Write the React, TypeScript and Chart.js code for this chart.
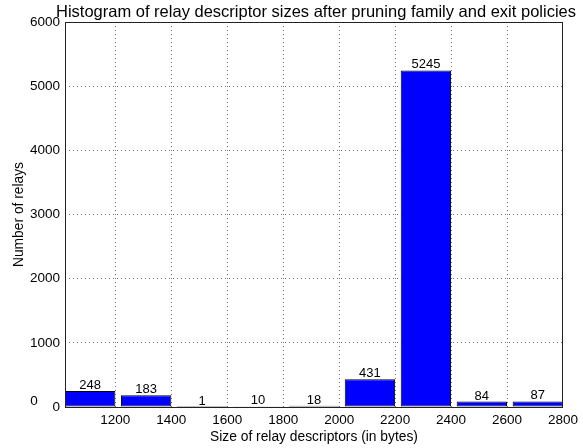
import React, { useEffect, useRef } from 'react';
import { Chart, registerables } from 'chart.js';

Chart.register(...registerables);

const binEdges = [1000, 1200, 1400, 1600, 1800, 2000, 2200, 2400, 2600, 2800];
const counts = [248, 183, 1, 10, 18, 431, 5245, 84, 87];
const xTicks = [1200, 1400, 1600, 1800, 2000, 2200, 2400, 2600, 2800];
const yTicks = [0, 1000, 2000, 3000, 4000, 5000, 6000];
const xRange = [1020, 2800];
const yRange = [0, 6000];
const strayLabel = '0';
const titleText = 'Histogram of relay descriptor sizes after pruning family and exit policies';
const xLabel = 'Size of relay descriptors (in bytes)';
const yLabel = 'Number of relays';

const FONT = '"Liberation Sans", Arial, sans-serif';

const textPlugin = {
  id: 'mplText',
  afterDraw(chart: any) {
    const ctx = chart.ctx;
    const a = chart.chartArea;
    ctx.save();
    // frame
    ctx.strokeStyle = '#222';
    ctx.lineWidth = 1;
    ctx.strokeRect(Math.round(a.left) + 0.5, Math.round(a.top) + 0.5, Math.round(a.right - a.left) - 1, Math.round(a.bottom - a.top));
    ctx.fillStyle = '#000';
    // value labels
    const meta = chart.getDatasetMeta(0);
    ctx.font = `13px ${FONT}`;
    ctx.textAlign = 'center';
    ctx.textBaseline = 'alphabetic';
    meta.data.forEach((el: any, i: number) => {
      ctx.fillText(String(counts[i]), el.x, el.y - 2);
    });
    // title
    const cx = (a.left + a.right) / 2;
    ctx.font = `16.5px ${FONT}`;
    ctx.textBaseline = 'middle';
    ctx.fillText(titleText, cx + 2, a.top - 10);
    // axis labels
    ctx.font = `13.8px ${FONT}`;
    ctx.fillText(xLabel, cx, a.bottom + 30);
    ctx.save();
    ctx.translate(a.left - 46, (a.top + a.bottom) / 2);
    ctx.rotate(-Math.PI / 2);
    ctx.fillText(yLabel, 0, 0);
    ctx.restore();
    // stray label
    ctx.font = `13.5px ${FONT}`;
    ctx.fillText(strayLabel, a.left - 31, a.bottom - 6);
    ctx.restore();
  },
};

export default function App() {
  const ref = useRef<HTMLCanvasElement>(null);
  useEffect(() => {
    document.body.style.margin = '0';
    const centers = counts.map((_, i) => binEdges[i] + (binEdges[i + 1] - binEdges[i]) * 0.55);
    const gridColor = 'rgba(0,0,0,0.55)';
    const chart = new Chart(ref.current!, {
      type: 'bar',
      data: {
        datasets: [
          {
            data: counts.map((c, i) => ({ x: centers[i], y: c })),
            backgroundColor: '#0000ff',
            borderColor: '#000000',
            borderWidth: 1,
            borderSkipped: false,
            categoryPercentage: 0.9,
            barPercentage: 1,
          } as any,
        ],
      },
      options: {
        animation: false,
        responsive: false,
        maintainAspectRatio: false,
        layout: { padding: { top: 22, right: 20, left: 0, bottom: 0 } },
        plugins: { legend: { display: false }, tooltip: { enabled: false }, title: { display: false } },
        scales: {
          x: {
            type: 'linear',
            min: xRange[0],
            max: xRange[1],
            offset: false,
            border: { display: false, dash: [1, 3] },
            grid: { color: gridColor, lineWidth: 1, drawTicks: false, offset: false },
            ticks: {
              color: '#000',
              font: { family: FONT, size: 13.5 },
              padding: 5,
              maxRotation: 0,
              callback: (v: any) => String(v),
            },
            afterBuildTicks: (axis: any) => {
              axis.ticks = xTicks.map((v) => ({ value: v }));
            },
            afterFit: (axis: any) => {
              axis.height = 41;
            },
          } as any,
          y: {
            min: yRange[0],
            max: yRange[1],
            border: { display: false, dash: [1, 3] },
            grid: { color: gridColor, lineWidth: 1, drawTicks: false },
            ticks: {
              color: '#000',
              font: { family: FONT, size: 13.5 },
              padding: 5,
              callback: (v: any) => String(v),
            },
            afterBuildTicks: (axis: any) => {
              axis.ticks = yTicks.map((v) => ({ value: v }));
            },
            afterFit: (axis: any) => {
              axis.width = 65;
            },
          } as any,
        },
      },
      plugins: [textPlugin],
    });
    return () => chart.destroy();
  }, []);
  return (
    <div style={{ width: 583, height: 448, background: '#fff' }}>
      <canvas ref={ref} width={583} height={448} style={{ display: 'block' }} />
    </div>
  );
}
